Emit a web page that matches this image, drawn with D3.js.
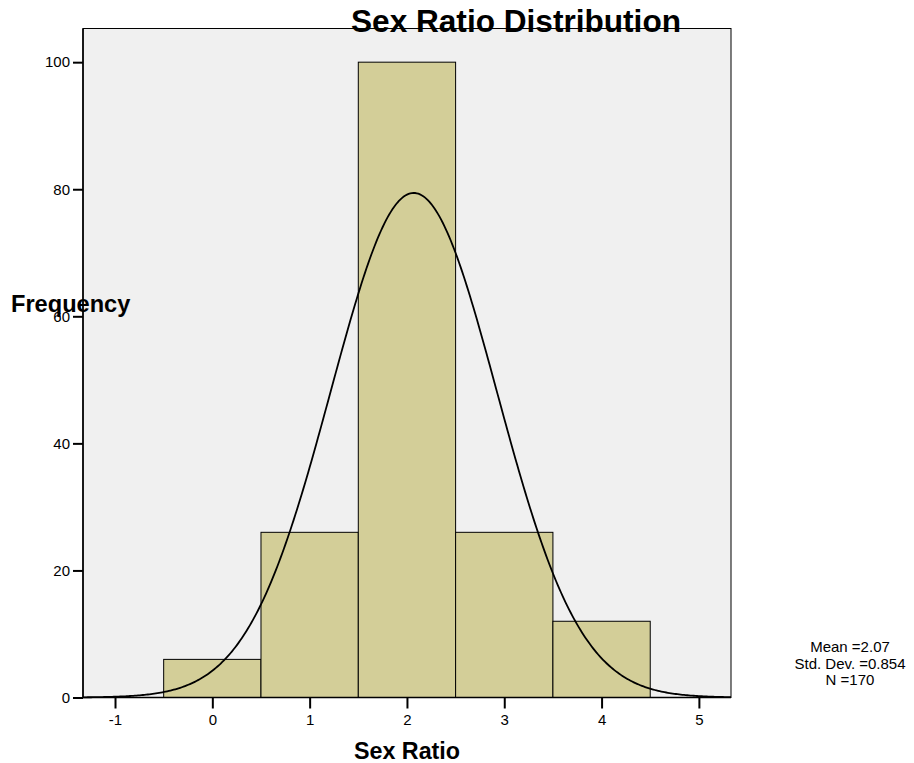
<!DOCTYPE html>
<html>
<head>
<meta charset="utf-8">
<script src="https://cdn.jsdelivr.net/npm/d3@7/dist/d3.min.js"></script>
<style>
  html, body { margin: 0; padding: 0; background: #ffffff; }
  svg { display: block; font-family: "Liberation Sans", Arial, sans-serif; }
</style>
</head>
<body>
<svg id="chart" width="914" height="763"></svg>
<script>
// ---- data ----
const binStarts = [-0.5, 0.5, 1.5, 2.5, 3.5];
const binEnds   = [0.5, 1.5, 2.5, 3.5, 4.5];
const counts    = [6, 26, 100, 26, 12];
const xTicks    = [-1, 0, 1, 2, 3, 4, 5];
const yTicks    = [0, 20, 40, 60, 80, 100];
const statMean  = 2.07;
const statSD    = 0.854;
const statN     = 170;
const statLines = ["Mean =2.07", "Std. Dev. =0.854", "N =170"];

// ---- layout ----
const svg = d3.select("#chart");
const pL = 83, pR = 731, pT = 28.5, pB = 697.5;

const x = d3.scaleLinear().domain([-1.329, 5.33]).range([pL, pR]);
const y = d3.scaleLinear().domain([0, 105.3]).range([pB, pT]);

// plot background
svg.append("rect")
  .attr("x", pL).attr("y", pT)
  .attr("width", pR - pL).attr("height", pB - pT)
  .attr("fill", "#f0f0f0")
  .attr("stroke", "#000").attr("stroke-width", 1);

// bars
const bins = counts.map((c, i) => ({ x0: binStarts[i], x1: binEnds[i], c }));
svg.append("g").selectAll("rect").data(bins).join("rect")
  .attr("x", d => x(d.x0))
  .attr("y", d => y(d.c))
  .attr("width", d => x(d.x1) - x(d.x0))
  .attr("height", d => y(0) - y(d.c))
  .attr("fill", "#d3ce98")
  .attr("stroke", "#000")
  .attr("stroke-width", 1);

// normal curve from the displayed statistics (bin width 1)
const binWidth = 1;
const dom = x.domain();
const curvePts = d3.range(0, 401).map(i => {
  const xv = dom[0] + (dom[1] - dom[0]) * i / 400;
  const z = (xv - statMean) / statSD;
  const yv = statN * binWidth * Math.exp(-0.5 * z * z) / (statSD * Math.sqrt(2 * Math.PI));
  return [xv, yv];
});
svg.append("path")
  .datum(curvePts)
  .attr("fill", "none")
  .attr("stroke", "#000")
  .attr("stroke-width", 1.8)
  .attr("d", d3.line().x(d => x(d[0])).y(d => y(d[1])));

// y axis
const yAxis = svg.append("g")
  .attr("transform", `translate(${pL},0)`)
  .call(d3.axisLeft(y).tickValues(yTicks).tickSize(10).tickPadding(3).tickFormat(d => String(d)));
yAxis.select(".domain").attr("stroke-width", 1.6).attr("d", `M0,${pT}V${pB}`);
yAxis.selectAll(".tick line").attr("stroke-width", 2);
yAxis.selectAll(".tick text")
  .attr("font-size", 15).attr("font-family", "Liberation Sans, Arial, sans-serif").attr("fill", "#000");

// x axis
const xAxis = svg.append("g")
  .attr("transform", `translate(0,${pB})`)
  .call(d3.axisBottom(x).tickValues(xTicks).tickSize(11).tickPadding(6).tickFormat(d => String(d)));
xAxis.select(".domain").attr("stroke-width", 1.6).attr("d", `M${pL},0H${pR}`);
xAxis.selectAll(".tick line").attr("stroke-width", 2);
xAxis.selectAll(".tick text")
  .attr("font-size", 15).attr("font-family", "Liberation Sans, Arial, sans-serif").attr("fill", "#000");

// title
svg.append("text")
  .attr("x", 516).attr("y", 32)
  .attr("text-anchor", "middle")
  .attr("font-size", 31.6).attr("font-weight", "bold")
  .text("Sex Ratio Distribution");

// axis titles
svg.append("text")
  .attr("x", 407).attr("y", 759)
  .attr("text-anchor", "middle")
  .attr("font-size", 23.3).attr("font-weight", "bold")
  .text("Sex Ratio");

svg.append("text")
  .attr("x", 11).attr("y", 312)
  .attr("text-anchor", "start")
  .attr("font-size", 23.6).attr("font-weight", "bold")
  .text("Frequency");

// statistics box
svg.append("g").selectAll("text").data(statLines).join("text")
  .attr("x", 850)
  .attr("y", (d, i) => 652 + i * 16.5)
  .attr("text-anchor", "middle")
  .attr("font-size", 15)
  .text(d => d);
</script>
</body>
</html>
